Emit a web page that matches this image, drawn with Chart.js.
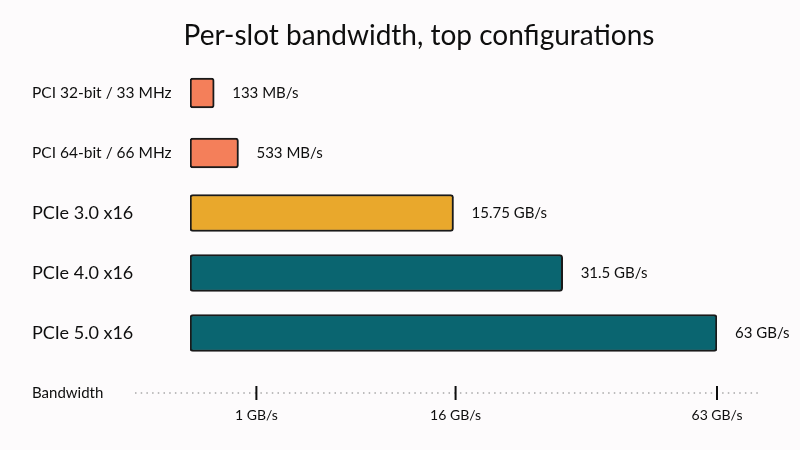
<!DOCTYPE html>
<html><head><meta charset="utf-8">
<script src="https://cdn.jsdelivr.net/npm/chart.js@4/dist/chart.umd.min.js"></script>
<style>html,body{margin:0;padding:0;background:#fdfbfc;}#wrap{width:800px;height:450px;position:relative;}</style>
</head><body><div id="wrap"><canvas id="c"></canvas></div>
<script>
const chartTitle = 'Per-slot bandwidth, top configurations';
const categories = ['PCI 32-bit / 33 MHz', 'PCI 64-bit / 66 MHz', 'PCIe 3.0 x16', 'PCIe 4.0 x16', 'PCIe 5.0 x16'];
const bandwidthGBs = [0.133, 0.533, 15.75, 31.5, 63];
const valueLabels = ['133 MB/s', '533 MB/s', '15.75 GB/s', '31.5 GB/s', '63 GB/s'];
const isLegacyPCI = [true, true, false, false, false];
const barColors = ['#f47f5a', '#f47f5a', '#e9a82c', '#0a6570', '#0a6570'];
const axisTitle = 'Bandwidth';
const axisTickValues = [1, 16, 63];
const axisTickLabels = ['1 GB/s', '16 GB/s', '63 GB/s'];

const FONT = "Lato, 'Liberation Sans', sans-serif";
const INK = '#0e0e0e';

class SqrtScale extends Chart.LinearScale {
  _s0() { return Math.sqrt(Math.max(this.min, 0)); }
  _s1() { return Math.sqrt(Math.max(this.max, 0)); }
  getPixelForValue(v) {
    if (v === null || v === undefined || isNaN(v)) return NaN;
    const s0 = this._s0(), s1 = this._s1();
    return this.getPixelForDecimal((Math.sqrt(Math.max(v, 0)) - s0) / (s1 - s0));
  }
  getValueForPixel(p) {
    const s0 = this._s0(), s1 = this._s1();
    const s = s0 + this.getDecimalForPixel(p) * (s1 - s0);
    return s * s;
  }
}
SqrtScale.id = 'sqrt';
SqrtScale.defaults = Chart.LinearScale.defaults;
Chart.register(SqrtScale);

const legacyData = bandwidthGBs.map((v, i) => isLegacyPCI[i] ? v : null);
const modernData = bandwidthGBs.map((v, i) => isLegacyPCI[i] ? null : v);

const bgPlugin = {
  id: 'bg',
  beforeDraw(chart) {
    const c = chart.ctx;
    c.save(); c.fillStyle = '#fdfbfc'; c.fillRect(0, 0, chart.width, chart.height); c.restore();
  }
};

const titlePlugin = {
  id: 'sketchTitle',
  afterDraw(chart) {
    const c = chart.ctx;
    c.save();
    c.fillStyle = INK;
    c.font = '28px ' + FONT;
    c.textAlign = 'center';
    c.textBaseline = 'middle';
    c.fillText(chartTitle, 419, 36);
    c.restore();
  }
};

const labelPlugin = {
  id: 'valueLabels',
  afterDatasetsDraw(chart) {
    const c = chart.ctx;
    c.save();
    c.fillStyle = INK;
    c.font = '15px ' + FONT;
    c.textAlign = 'left';
    c.textBaseline = 'middle';
    chart.data.datasets.forEach((ds, di) => {
      const meta = chart.getDatasetMeta(di);
      meta.data.forEach((el, i) => {
        if (ds.data[i] === null) return;
        c.fillText(valueLabels[i], el.x + 18, el.y);
      });
    });
    c.restore();
  }
};

const axisPlugin = {
  id: 'sketchAxis',
  afterDraw(chart) {
    const c = chart.ctx, a = chart.chartArea, xs = chart.scales.x;
    const y0 = a.bottom + 30;
    c.save();
    c.strokeStyle = '#a8a8a8';
    c.lineWidth = 1.6;
    c.setLineDash([1.5, 4.2]);
    c.beginPath(); c.moveTo(a.left - 55, y0); c.lineTo(a.right + 45, y0); c.stroke();
    c.setLineDash([]);
    c.strokeStyle = INK; c.lineWidth = 2;
    c.fillStyle = INK;
    c.font = '14px ' + FONT;
    c.textAlign = 'center'; c.textBaseline = 'middle';
    axisTickValues.forEach((v, i) => {
      const x = xs.getPixelForValue(v);
      c.beginPath(); c.moveTo(x, y0 - 7); c.lineTo(x, y0 + 7); c.stroke();
      c.fillText(axisTickLabels[i], x, y0 + 22);
    });
    c.font = '15px ' + FONT;
    c.textAlign = 'left';
    c.fillText(axisTitle, 32, y0);
    c.restore();
  }
};

new Chart(document.getElementById('c'), {
  type: 'bar',
  data: {
    labels: categories,
    datasets: [
      { data: legacyData, backgroundColor: barColors, borderColor: '#1a1a1a', borderWidth: 2,
        borderRadius: 3, borderSkipped: false, barThickness: 30, grouped: false },
      { data: modernData, backgroundColor: barColors, borderColor: '#1a1a1a', borderWidth: 2,
        borderRadius: 3, borderSkipped: false, barThickness: 37, grouped: false }
    ]
  },
  options: {
    indexAxis: 'y',
    responsive: true,
    maintainAspectRatio: false,
    animation: false,
    layout: { padding: { left: 32, right: 83, top: 63, bottom: 87 } },
    plugins: {
      legend: { display: false },
      tooltip: { enabled: false },
      title: { display: false }
    },
    scales: {
      x: { type: 'sqrt', min: 0, max: 63, display: false },
      y: {
        grid: { display: false }, border: { display: false },
        afterFit(s) { s.width = 158; },
        ticks: {
          crossAlign: 'far', color: INK, padding: 0,
          font: (ctx) => ({ family: FONT, size: isLegacyPCI[ctx.index] ? 15.5 : 18 })
        }
      }
    }
  },
  plugins: [bgPlugin, titlePlugin, labelPlugin, axisPlugin]
});
</script>
</body></html>
